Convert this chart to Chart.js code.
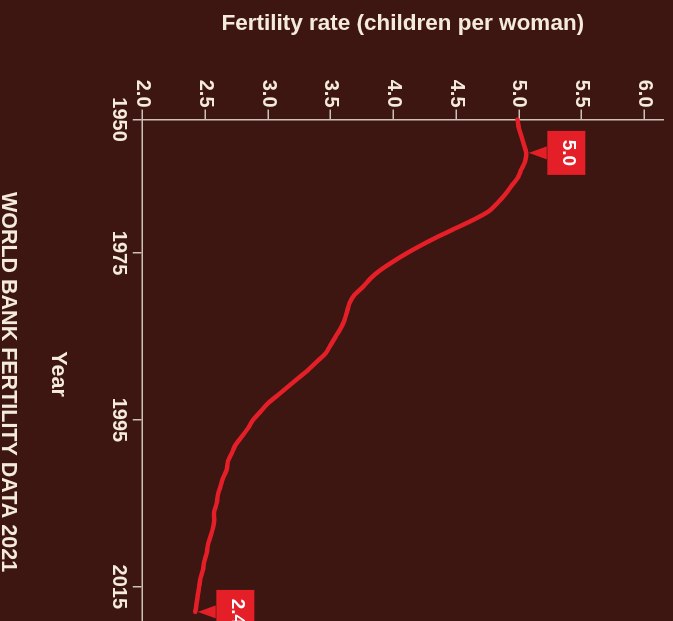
<!DOCTYPE html>
<html><head><meta charset="utf-8">
<script src="https://cdn.jsdelivr.net/npm/chart.js@4"></script>
<style>
html,body{margin:0;padding:0;background:#3d1511;overflow:hidden;width:673px;height:621px;}
#wrap{position:absolute;left:0;top:0;width:764px;height:673px;transform-origin:0 0;transform:translate(673px,0) rotate(90deg);}
</style></head><body>
<div id="wrap"><canvas id="c" width="764" height="673"></canvas></div>
<script>
const years = ['1950','1960','1961','1962','1963','1964','1965','1966','1967','1968','1969',
  '1970','1971','1972','1973','1974','1975','1976','1977','1978','1979',
  '1980','1981','1982','1983','1984','1985','1986','1987','1988','1989',
  '1990','1991','1992','1993','1994','1995','1996','1997','1998','1999',
  '2000','2001','2002','2003','2004','2005','2006','2007','2008','2009',
  '2010','2011','2012','2013','2014','2015','2016','2017','2018','2019','2020'];
const fertility = [4.99,5.00,5.02,5.04,5.06,5.05,5.02,4.99,4.94,4.89,4.83,
  4.76,4.64,4.50,4.36,4.23,4.11,4.00,3.90,3.82,3.76,
  3.69,3.65,3.63,3.61,3.58,3.54,3.50,3.46,3.39,3.32,
  3.24,3.16,3.08,3.00,2.94,2.88,2.84,2.79,2.74,2.71,
  2.68,2.67,2.64,2.62,2.60,2.59,2.57,2.57,2.56,2.54,
  2.52,2.51,2.49,2.48,2.46,2.45,2.44,2.43,2.42];
const tickYears = ['1950','1975','1995','2015'];
const rateTicks = [2.0,2.5,3.0,3.5,4.0,4.5,5.0,5.5,6.0];
const titleText = 'WORLD BANK FERTILITY DATA 2021';
const yTitle = 'Fertility rate (children per woman)';
const xTitle = 'Year';

const BG = '#3d1511', CREAM = '#f4ebda', AXIS = '#cbc2b8', RED = '#e41f27';
Chart.defaults.font.family = '"Liberation Sans", Arial, Helvetica, sans-serif';
Chart.defaults.font.weight = 'bold';

const bgPlugin = {id:'bg', beforeDraw(c){const ctx=c.ctx;ctx.save();ctx.fillStyle=BG;ctx.fillRect(0,0,c.width,c.height);ctx.restore();}};
const calloutPlugin = {id:'callout', afterDatasetsDraw(c){
  const meta = c.getDatasetMeta(0); const data = c.data.datasets[0].data;
  let maxI = 0; data.forEach((v,i)=>{ if(v>data[maxI]) maxI=i; });
  const idx = [maxI, data.length-1];
  const ctx = c.ctx; ctx.save();
  idx.forEach(i=>{
    const p = meta.data[i]; const x=p.x, y=p.y;
    const tip = y-2.5, base = y-21, bh = 38, bw = 44;
    ctx.fillStyle = RED;
    ctx.beginPath(); ctx.moveTo(x, tip); ctx.lineTo(x-6.5, base+0.5); ctx.lineTo(x+6.5, base+0.5); ctx.closePath(); ctx.fill();
    ctx.fillRect(x-bw/2, base-bh, bw, bh);
    ctx.fillStyle = '#ffffff'; ctx.font = 'bold 19px "Liberation Sans", Arial, sans-serif';
    ctx.textAlign='center'; ctx.textBaseline='middle';
    ctx.fillText((Math.floor(data[i]*10+1e-9)/10).toFixed(1), x, base-bh/2-2);
  });
  ctx.restore();
}};

new Chart(document.getElementById('c'), {
  type:'line',
  data:{labels:years, datasets:[{label:'Fertility rate', data:fertility, borderColor:RED, borderWidth:4.5,
    pointRadius:0, tension:0.25, fill:false, borderCapStyle:'round', borderJoinStyle:'round'}]},
  options:{
    responsive:false, animation:false, devicePixelRatio:1,
    layout:{padding:{top:10,left:0,right:0,bottom:0}},
    plugins:{
      legend:{display:false}, tooltip:{enabled:false},
      title:{display:true, position:'bottom', text:titleText, color:CREAM, padding:0,
        font:{size:21.5, weight:'bold', lineHeight:0.72}}
    },
    scales:{
      x:{type:'category', position:'bottom', offset:false,
        grid:{display:true, drawOnChartArea:false, drawTicks:true, tickLength:10, color:AXIS, lineWidth:1.5},
        border:{display:true, color:AXIS, width:1.5},
        ticks:{autoSkip:false, maxRotation:0, minRotation:0, padding:2, color:CREAM, font:{size:20, weight:'bold'},
          callback(v){ const l = this.getLabelForValue(v); return tickYears.includes(l) ? l : null; }},
        title:{display:true, text:xTitle, color:CREAM, font:{size:21.5, weight:'bold'}, padding:{top:34.1, bottom:29.3}},
        afterFit(s){ s.paddingLeft=0; s.paddingRight=0; }
      },
      y:{type:'linear', position:'left', min:rateTicks[0], max:6.15,
        grid:{display:true, drawOnChartArea:false, drawTicks:true, tickLength:10, color:AXIS, lineWidth:1.5},
        border:{display:true, color:AXIS, width:1.5},
        ticks:{stepSize:0.5, includeBounds:false, padding:2, color:CREAM, font:{size:20, weight:'bold'},
          callback(v){ return rateTicks.includes(v) ? v.toFixed(1) : null; }},
        title:{display:true, text:yTitle, color:CREAM, font:{size:22.5, weight:'bold'}, padding:{top:10, bottom:40.7}},
        afterFit(s){ s.paddingTop=0; s.paddingBottom=0; }
      },
      pad:{type:'linear', position:'right', display:true,
        grid:{display:false}, border:{display:false}, ticks:{display:false},
        afterFit(s){ s.width = 135.4; }
      }
    }
  },
  plugins:[bgPlugin, calloutPlugin]
});
</script>
</body></html>
